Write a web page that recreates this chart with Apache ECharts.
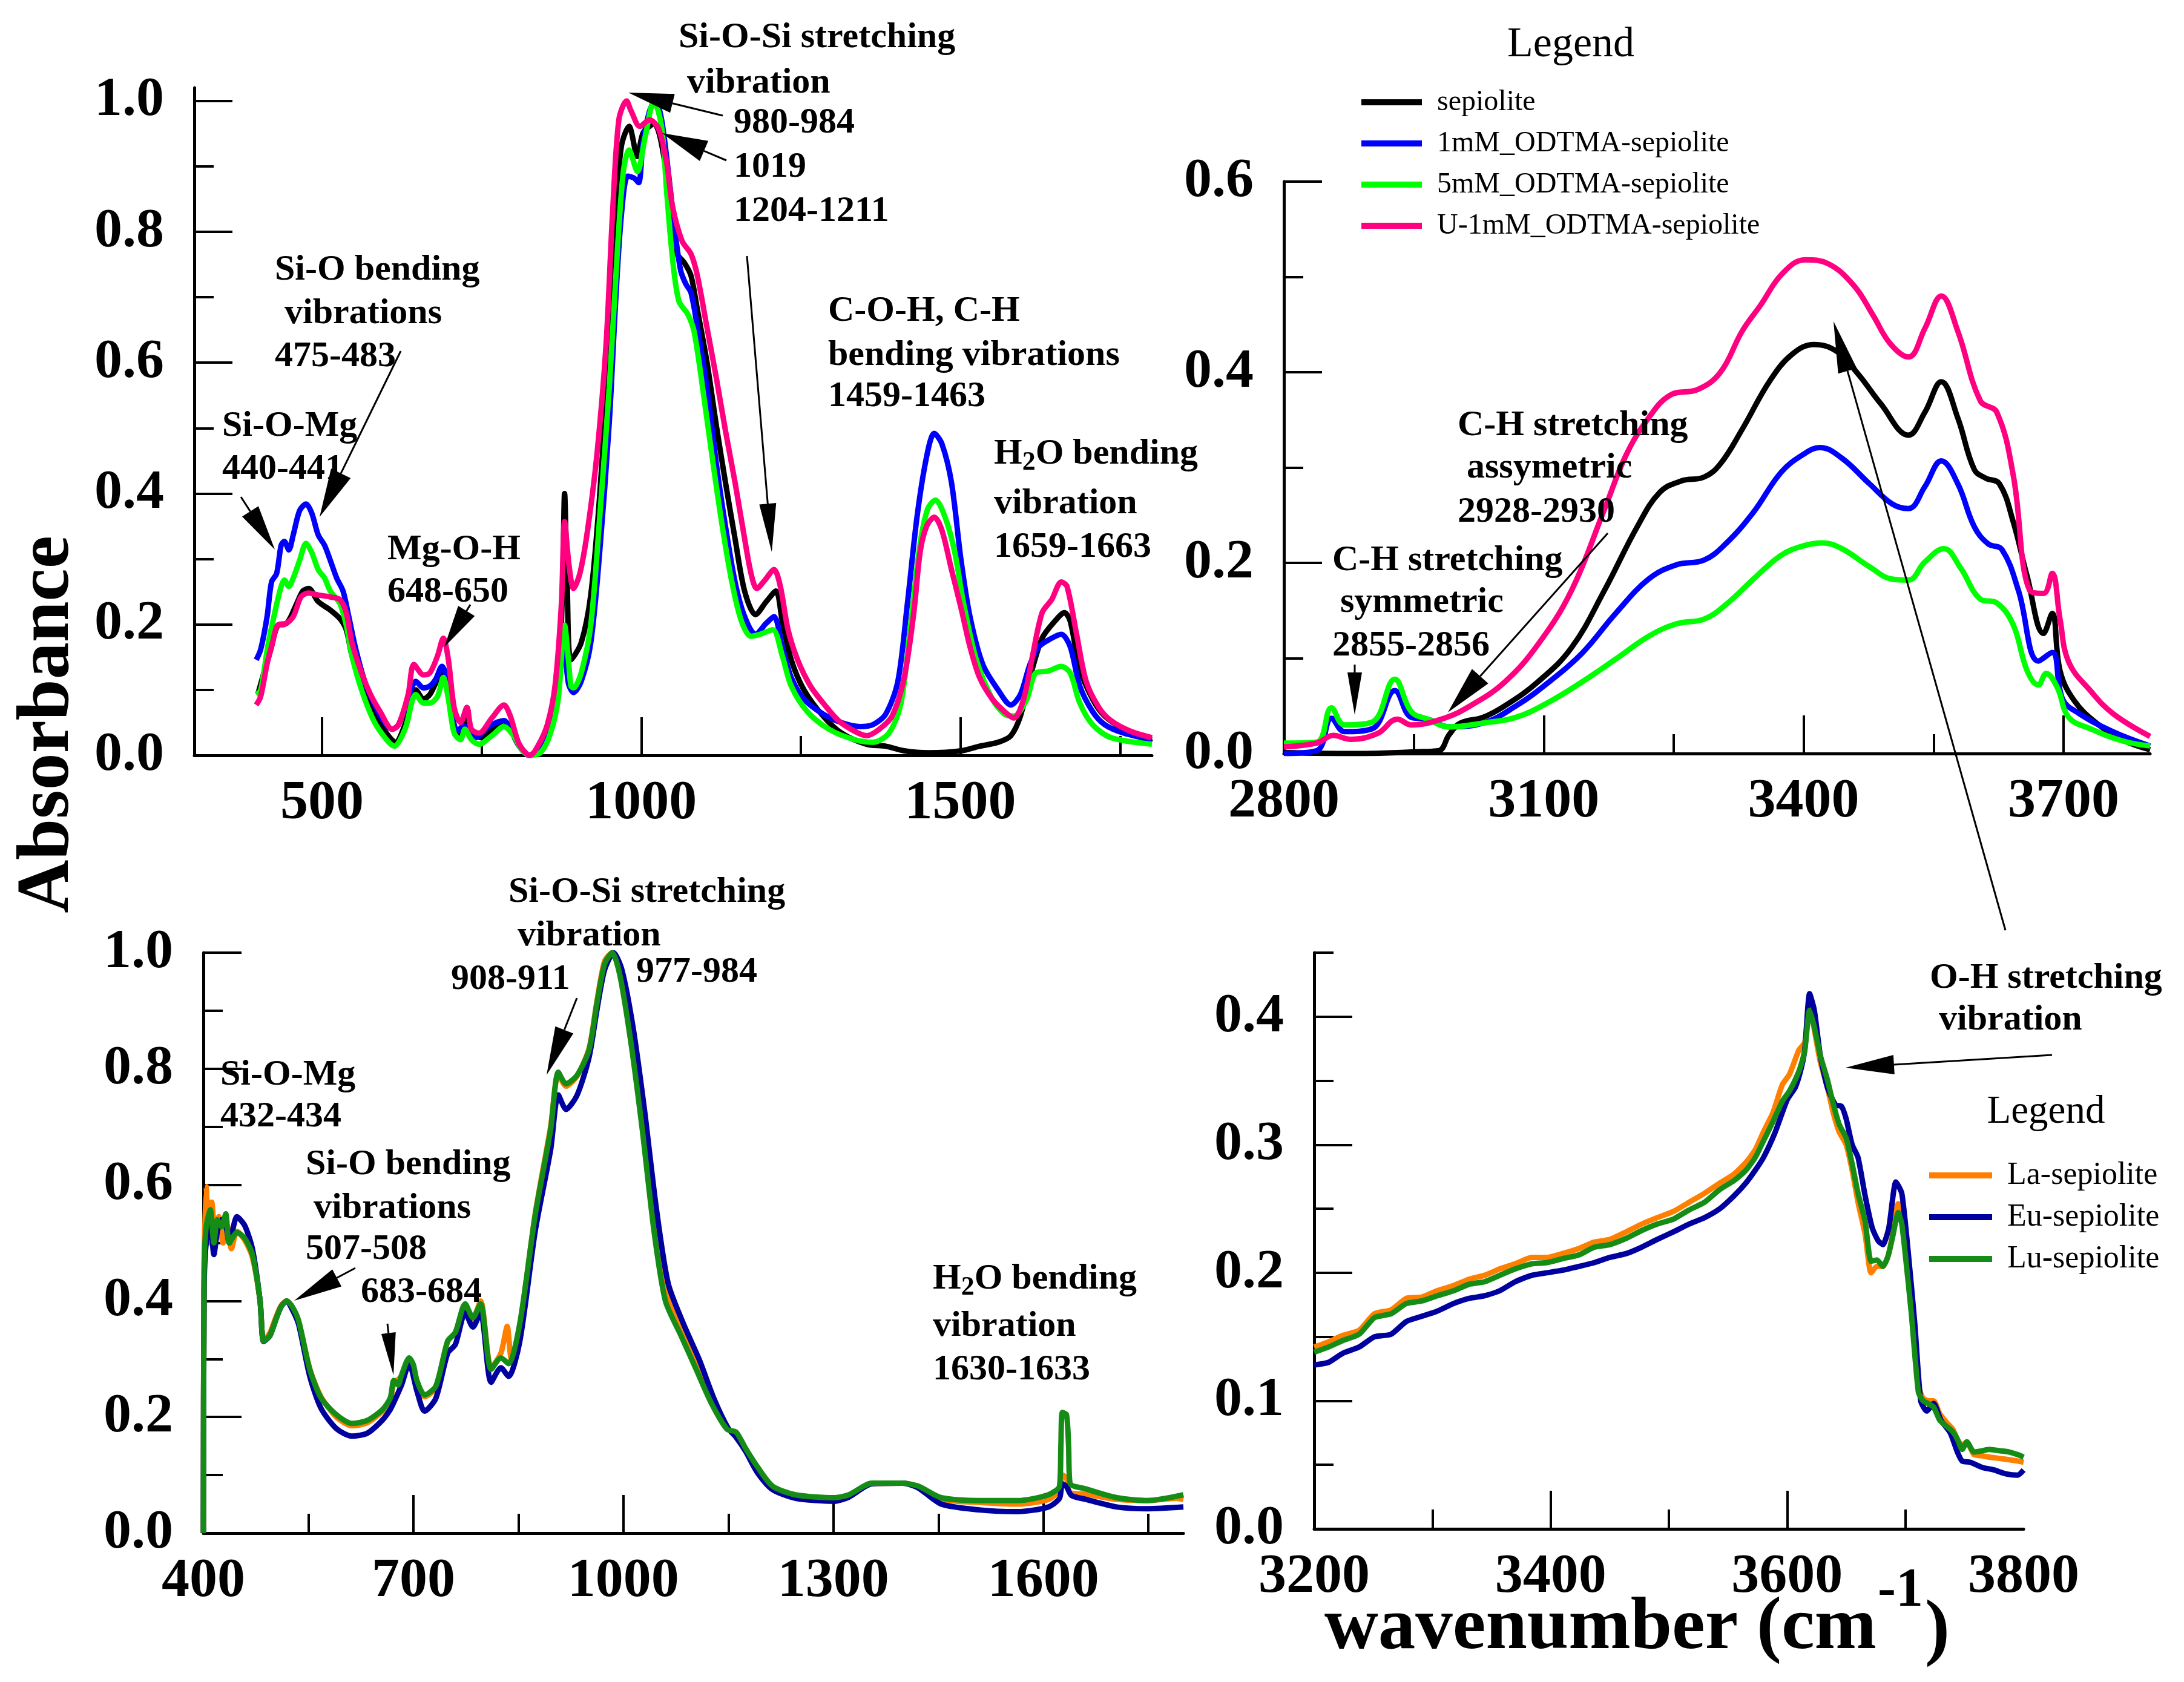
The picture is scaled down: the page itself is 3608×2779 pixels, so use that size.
<!DOCTYPE html>
<html>
<head>
<meta charset="utf-8">
<script src="https://cdn.jsdelivr.net/npm/echarts@6/dist/echarts.min.js"></script>
<style>
html,body{margin:0;padding:0;background:#fff;}
#chart{width:3608px;height:2779px;}
</style>
</head>
<body>
<div id="chart"></div>
<script>
// series names
const topNames = ['sepiolite', '1mM_ODTMA-sepiolite', '5mM_ODTMA-sepiolite', 'U-1mM_ODTMA-sepiolite'];
const bottomNames = ['La-sepiolite', 'Eu-sepiolite', 'Lu-sepiolite'];

// top left panel, 300-1800 cm-1 : [wavenumber, absorbance]
const tlSepiolite = [[400,0.095],[409,0.126],[419,0.159],[431,0.199],[445,0.202],[460,0.231],[470,0.251],[479,0.255],[494,0.235],[513,0.222],[528,0.209],[538,0.192],[547,0.152],[562,0.106],[581,0.067],[601,0.034],[615,0.02],[630,0.047],[647,0.1],[659,0.086],[669,0.093],[688,0.126],[695,0.106],[707,0.04],[717,0.027],[727,0.073],[734,0.034],[751,0.027],[770,0.044],[785,0.053],[795,0.04],[809,0.014],[826,0.0],[843,0.01],[858,0.04],[870,0.1],[877,0.265],[880,0.4],[884,0.265],[890,0.146],[906,0.172],[921,0.245],[935,0.397],[950,0.628],[960,0.826],[969,0.931],[981,0.961],[994,0.915],[1003,0.951],[1020,0.965],[1038,0.9],[1054,0.77],[1068,0.752],[1078,0.733],[1088,0.681],[1103,0.601],[1118,0.502],[1132,0.417],[1147,0.331],[1162,0.251],[1179,0.215],[1196,0.235],[1211,0.251],[1221,0.205],[1235,0.146],[1255,0.1],[1285,0.06],[1314,0.034],[1353,0.017],[1383,0.014],[1412,0.007],[1451,0.004],[1501,0.007],[1530,0.014],[1559,0.02],[1579,0.03],[1594,0.06],[1609,0.119],[1628,0.179],[1648,0.205],[1663,0.218],[1672,0.205],[1687,0.133],[1707,0.086],[1726,0.06],[1756,0.04],[1800,0.02]];
const tl1mM = [[397,0.146],[404,0.162],[414,0.212],[421,0.265],[429,0.278],[436,0.321],[441,0.327],[448,0.314],[455,0.337],[465,0.374],[475,0.384],[484,0.37],[494,0.337],[504,0.321],[513,0.298],[523,0.271],[533,0.251],[542,0.212],[552,0.166],[567,0.113],[581,0.08],[596,0.053],[610,0.04],[620,0.047],[635,0.086],[647,0.113],[659,0.103],[669,0.106],[678,0.116],[688,0.136],[695,0.119],[703,0.067],[712,0.037],[722,0.045],[730,0.04],[741,0.027],[761,0.044],[785,0.053],[795,0.04],[809,0.014],[824,0.0],[838,0.01],[853,0.04],[867,0.08],[878,0.18],[886,0.11],[894,0.096],[906,0.113],[921,0.172],[935,0.311],[950,0.509],[960,0.694],[969,0.826],[979,0.885],[989,0.882],[996,0.875],[1003,0.938],[1013,0.984],[1022,1.0],[1032,0.971],[1045,0.87],[1053,0.8],[1062,0.74],[1070,0.72],[1078,0.707],[1088,0.654],[1103,0.562],[1118,0.443],[1132,0.35],[1147,0.265],[1162,0.212],[1179,0.185],[1196,0.202],[1208,0.212],[1221,0.166],[1235,0.119],[1255,0.086],[1285,0.063],[1314,0.05],[1343,0.044],[1363,0.047],[1383,0.063],[1402,0.113],[1417,0.232],[1432,0.364],[1447,0.456],[1459,0.492],[1471,0.476],[1486,0.417],[1501,0.298],[1515,0.212],[1535,0.139],[1559,0.1],[1579,0.077],[1594,0.093],[1609,0.139],[1623,0.166],[1643,0.179],[1658,0.185],[1672,0.166],[1687,0.106],[1707,0.067],[1726,0.047],[1756,0.034],[1800,0.024]];
const tl5mM = [[397,0.093],[404,0.1],[415,0.166],[426,0.218],[436,0.258],[441,0.268],[448,0.258],[455,0.271],[465,0.298],[475,0.324],[484,0.31],[494,0.284],[504,0.271],[513,0.251],[528,0.232],[538,0.199],[547,0.152],[562,0.1],[581,0.053],[601,0.024],[613,0.014],[630,0.04],[647,0.093],[659,0.08],[669,0.08],[681,0.09],[690,0.119],[698,0.086],[707,0.034],[717,0.024],[724,0.04],[734,0.024],[746,0.017],[766,0.03],[785,0.044],[800,0.03],[814,0.007],[826,0.0],[843,0.005],[858,0.034],[870,0.086],[880,0.199],[886,0.146],[890,0.106],[894,0.103],[906,0.126],[921,0.199],[935,0.364],[950,0.562],[962,0.76],[972,0.892],[981,0.925],[994,0.892],[1006,0.944],[1020,1.0],[1032,0.96],[1040,0.86],[1049,0.76],[1059,0.694],[1073,0.674],[1083,0.647],[1098,0.549],[1113,0.443],[1127,0.35],[1142,0.265],[1157,0.205],[1172,0.182],[1186,0.185],[1206,0.192],[1221,0.152],[1235,0.106],[1260,0.067],[1294,0.04],[1334,0.024],[1363,0.02],[1388,0.034],[1407,0.08],[1422,0.199],[1437,0.324],[1449,0.377],[1461,0.39],[1476,0.364],[1491,0.311],[1505,0.232],[1525,0.146],[1550,0.086],[1569,0.063],[1584,0.06],[1604,0.086],[1618,0.126],[1638,0.129],[1658,0.136],[1672,0.126],[1687,0.08],[1707,0.047],[1736,0.027],[1800,0.017]];
const tlU1mM = [[397,0.077],[404,0.09],[414,0.14],[422,0.17],[431,0.199],[441,0.2],[455,0.212],[467,0.242],[479,0.248],[494,0.245],[513,0.242],[528,0.238],[538,0.218],[547,0.172],[562,0.126],[576,0.093],[591,0.067],[610,0.04],[620,0.047],[635,0.093],[644,0.139],[659,0.123],[669,0.126],[681,0.152],[690,0.179],[698,0.146],[707,0.073],[717,0.05],[727,0.073],[734,0.04],[746,0.034],[766,0.057],[785,0.077],[795,0.06],[809,0.017],[826,0.0],[838,0.014],[853,0.047],[865,0.106],[875,0.231],[880,0.357],[887,0.29],[894,0.255],[904,0.278],[916,0.344],[931,0.463],[945,0.628],[955,0.826],[965,0.971],[977,1.0],[984,0.985],[998,0.961],[1013,0.971],[1027,0.958],[1040,0.905],[1049,0.839],[1064,0.786],[1078,0.766],[1088,0.733],[1103,0.654],[1118,0.575],[1132,0.496],[1147,0.417],[1162,0.331],[1172,0.278],[1181,0.255],[1194,0.268],[1208,0.284],[1218,0.258],[1230,0.192],[1245,0.146],[1265,0.106],[1285,0.08],[1309,0.053],[1334,0.037],[1353,0.03],[1373,0.04],[1393,0.06],[1412,0.119],[1427,0.218],[1437,0.311],[1447,0.35],[1459,0.364],[1471,0.344],[1486,0.284],[1501,0.225],[1515,0.166],[1530,0.119],[1550,0.086],[1569,0.067],[1584,0.057],[1599,0.086],[1613,0.152],[1628,0.218],[1643,0.238],[1658,0.265],[1667,0.258],[1682,0.185],[1697,0.113],[1717,0.073],[1736,0.053],[1766,0.037],[1800,0.027]];

// top right panel, 2800-3800 cm-1
const trSepiolite = [[2800,0.001],[2880,0.0],[2960,0.002],[2979,0.003],[2991,0.02],[3004,0.032],[3030,0.038],[3055,0.05],[3093,0.075],[3132,0.111],[3170,0.171],[3208,0.238],[3234,0.274],[3259,0.286],[3285,0.29],[3304,0.304],[3329,0.34],[3361,0.391],[3387,0.419],[3412,0.429],[3438,0.422],[3463,0.398],[3489,0.367],[3521,0.334],[3540,0.358],[3559,0.39],[3578,0.352],[3597,0.298],[3610,0.289],[3626,0.283],[3642,0.243],[3658,0.186],[3677,0.126],[3687,0.147],[3696,0.087],[3712,0.056],[3738,0.032],[3769,0.014],[3800,0.004]];
const tr1mM = [[2800,0.0],[2838,0.003],[2855,0.037],[2870,0.023],[2902,0.026],[2928,0.066],[2947,0.038],[2966,0.036],[2991,0.028],[3030,0.032],[3068,0.05],[3106,0.075],[3144,0.105],[3183,0.147],[3221,0.183],[3253,0.198],[3285,0.203],[3310,0.22],[3342,0.253],[3374,0.295],[3400,0.314],[3419,0.321],[3444,0.31],[3476,0.283],[3502,0.262],[3521,0.257],[3540,0.28],[3559,0.307],[3578,0.283],[3597,0.238],[3613,0.22],[3629,0.214],[3648,0.171],[3671,0.097],[3687,0.106],[3699,0.057],[3718,0.042],[3757,0.023],[3800,0.008]];
const tr5mM = [[2800,0.011],[2838,0.012],[2855,0.048],[2870,0.03],[2902,0.033],[2928,0.078],[2947,0.044],[2966,0.036],[2991,0.028],[3030,0.032],[3068,0.038],[3106,0.054],[3144,0.075],[3183,0.099],[3221,0.123],[3253,0.136],[3285,0.141],[3310,0.156],[3342,0.183],[3374,0.208],[3400,0.218],[3422,0.221],[3444,0.215],[3476,0.196],[3502,0.183],[3521,0.182],[3540,0.201],[3562,0.215],[3581,0.195],[3604,0.162],[3623,0.158],[3642,0.135],[3658,0.087],[3671,0.072],[3680,0.084],[3693,0.069],[3706,0.038],[3731,0.026],[3769,0.013],[3800,0.008]];
const trU1mM = [[2800,0.007],[2838,0.011],[2857,0.019],[2877,0.015],[2908,0.021],[2931,0.036],[2947,0.03],[2985,0.037],[3017,0.051],[3055,0.075],[3093,0.114],[3132,0.171],[3170,0.256],[3195,0.313],[3221,0.352],[3246,0.376],[3278,0.382],[3304,0.4],[3329,0.443],[3350,0.47],[3376,0.504],[3402,0.518],[3428,0.514],[3458,0.491],[3480,0.46],[3500,0.43],[3521,0.416],[3540,0.446],[3559,0.48],[3578,0.443],[3604,0.37],[3623,0.358],[3642,0.292],[3661,0.171],[3677,0.168],[3687,0.189],[3696,0.141],[3706,0.096],[3731,0.066],[3757,0.042],[3800,0.018]];

// bottom left panel, 400-1800 cm-1
const blLa = [[400,0],[401,0.45],[404,0.597],[408,0.5],[412,0.57],[417,0.51],[422,0.545],[428,0.5],[434,0.53],[440,0.49],[448,0.52],[459,0.505],[470,0.475],[481,0.4],[486,0.331],[495,0.345],[503,0.37],[511,0.392],[519,0.4],[527,0.39],[536,0.365],[552,0.283],[568,0.235],[590,0.2],[612,0.185],[634,0.19],[656,0.21],[667,0.228],[672,0.258],[683,0.27],[694,0.3],[705,0.26],[716,0.235],[732,0.25],[749,0.33],[760,0.345],[774,0.39],[785,0.37],[796,0.4],[811,0.285],[825,0.31],[834,0.356],[840,0.3],[852,0.355],[874,0.55],[896,0.7],[907,0.79],[918,0.77],[934,0.788],[951,0.835],[962,0.915],[973,0.985],[984,1.0],[995,0.965],[1011,0.85],[1027,0.71],[1044,0.54],[1060,0.42],[1082,0.35],[1104,0.29],[1126,0.228],[1148,0.18],[1161,0.172],[1175,0.145],[1191,0.113],[1213,0.08],[1246,0.064],[1301,0.059],[1322,0.065],[1355,0.085],[1399,0.086],[1421,0.08],[1454,0.058],[1508,0.053],[1563,0.05],[1607,0.058],[1623,0.075],[1627,0.1],[1633,0.095],[1638,0.07],[1661,0.067],[1705,0.058],[1749,0.056],[1790,0.06],[1800,0.058]];
const blEu = [[400,0],[401,0.42],[404,0.5],[410,0.53],[415,0.48],[420,0.52],[426,0.54],[432,0.53],[437,0.5],[448,0.545],[459,0.53],[470,0.49],[481,0.4],[486,0.33],[495,0.34],[503,0.366],[511,0.39],[519,0.4],[527,0.385],[536,0.36],[552,0.27],[568,0.215],[590,0.18],[612,0.167],[634,0.172],[656,0.195],[667,0.213],[672,0.225],[683,0.255],[694,0.292],[705,0.245],[716,0.21],[732,0.232],[749,0.31],[760,0.325],[774,0.38],[785,0.355],[796,0.38],[811,0.26],[825,0.285],[836,0.27],[852,0.33],[874,0.52],[896,0.66],[907,0.755],[918,0.73],[934,0.755],[951,0.82],[962,0.9],[973,0.97],[986,1.0],[998,0.97],[1014,0.87],[1030,0.73],[1047,0.56],[1064,0.43],[1086,0.36],[1108,0.3],[1130,0.23],[1150,0.18],[1161,0.165],[1175,0.14],[1191,0.105],[1213,0.075],[1246,0.06],[1301,0.055],[1322,0.062],[1355,0.085],[1399,0.086],[1421,0.078],[1454,0.05],[1508,0.04],[1563,0.037],[1607,0.045],[1623,0.06],[1627,0.085],[1633,0.08],[1640,0.065],[1661,0.058],[1705,0.045],[1749,0.042],[1800,0.045]];
const blLu = [[400,0],[401,0.45],[404,0.528],[410,0.557],[415,0.5],[420,0.54],[426,0.528],[432,0.55],[437,0.5],[448,0.518],[459,0.508],[470,0.48],[481,0.4],[486,0.331],[495,0.34],[503,0.366],[511,0.39],[519,0.4],[527,0.39],[536,0.366],[552,0.282],[568,0.233],[590,0.204],[612,0.189],[634,0.194],[656,0.213],[667,0.233],[672,0.263],[678,0.255],[683,0.272],[694,0.302],[700,0.29],[705,0.263],[716,0.238],[732,0.253],[749,0.331],[760,0.346],[774,0.395],[785,0.371],[796,0.395],[811,0.282],[825,0.302],[836,0.292],[852,0.361],[874,0.548],[896,0.695],[907,0.794],[918,0.774],[934,0.789],[951,0.833],[962,0.912],[973,0.98],[984,1.0],[995,0.961],[1011,0.843],[1027,0.695],[1044,0.518],[1060,0.4],[1082,0.341],[1104,0.282],[1126,0.223],[1148,0.179],[1161,0.174],[1175,0.145],[1191,0.115],[1213,0.081],[1246,0.066],[1301,0.061],[1322,0.066],[1355,0.086],[1399,0.086],[1421,0.081],[1454,0.061],[1508,0.056],[1563,0.056],[1607,0.066],[1623,0.081],[1625,0.15],[1627,0.208],[1633,0.204],[1636,0.15],[1638,0.086],[1661,0.076],[1705,0.061],[1749,0.056],[1800,0.066]];

// bottom right panel, 3200-3800 cm-1
const brLa = [[3200,0.142],[3212,0.146],[3224,0.151],[3238,0.155],[3251,0.168],[3265,0.171],[3278,0.18],[3291,0.181],[3304,0.186],[3318,0.19],[3331,0.195],[3344,0.198],[3357,0.203],[3370,0.207],[3384,0.212],[3397,0.212],[3410,0.215],[3424,0.219],[3437,0.224],[3450,0.226],[3464,0.232],[3477,0.238],[3490,0.243],[3504,0.248],[3517,0.255],[3530,0.262],[3543,0.27],[3555,0.277],[3565,0.286],[3573,0.296],[3580,0.31],[3588,0.325],[3596,0.347],[3602,0.355],[3610,0.374],[3615,0.38],[3619,0.41],[3623,0.39],[3628,0.365],[3634,0.345],[3639,0.325],[3644,0.31],[3650,0.3],[3655,0.28],[3660,0.255],[3666,0.23],[3671,0.2],[3676,0.205],[3681,0.205],[3686,0.215],[3690,0.235],[3694,0.254],[3697,0.245],[3700,0.22],[3705,0.175],[3711,0.112],[3715,0.102],[3720,0.1],[3724,0.1],[3729,0.09],[3735,0.083],[3740,0.078],[3744,0.07],[3748,0.065],[3752,0.068],[3758,0.058],[3765,0.057],[3771,0.056],[3780,0.055],[3788,0.054],[3795,0.053],[3800,0.052]];
const brEu = [[3200,0.128],[3212,0.13],[3224,0.137],[3238,0.142],[3251,0.15],[3265,0.152],[3278,0.162],[3291,0.166],[3304,0.17],[3318,0.176],[3331,0.18],[3344,0.182],[3357,0.186],[3370,0.193],[3384,0.198],[3397,0.2],[3410,0.202],[3424,0.205],[3437,0.208],[3450,0.212],[3464,0.215],[3477,0.22],[3490,0.226],[3504,0.232],[3517,0.238],[3530,0.243],[3543,0.25],[3555,0.26],[3565,0.27],[3573,0.28],[3580,0.29],[3590,0.31],[3600,0.335],[3607,0.345],[3612,0.36],[3615,0.375],[3619,0.418],[3623,0.405],[3628,0.37],[3634,0.345],[3641,0.331],[3646,0.33],[3650,0.32],[3655,0.3],[3660,0.29],[3666,0.26],[3672,0.235],[3677,0.225],[3681,0.222],[3686,0.235],[3692,0.271],[3697,0.262],[3702,0.22],[3708,0.16],[3713,0.1],[3718,0.092],[3724,0.098],[3730,0.085],[3738,0.075],[3744,0.06],[3748,0.053],[3755,0.052],[3765,0.048],[3775,0.046],[3785,0.043],[3795,0.042],[3800,0.046]];
const brLu = [[3200,0.138],[3212,0.142],[3224,0.147],[3238,0.152],[3251,0.165],[3265,0.168],[3278,0.176],[3291,0.178],[3304,0.182],[3318,0.186],[3331,0.191],[3344,0.193],[3357,0.198],[3370,0.203],[3384,0.207],[3397,0.208],[3410,0.211],[3424,0.214],[3437,0.22],[3450,0.222],[3464,0.227],[3477,0.233],[3490,0.238],[3504,0.242],[3517,0.249],[3530,0.255],[3543,0.265],[3555,0.272],[3565,0.28],[3573,0.29],[3580,0.303],[3588,0.318],[3596,0.334],[3602,0.342],[3607,0.351],[3611,0.36],[3615,0.374],[3619,0.405],[3623,0.392],[3628,0.37],[3634,0.351],[3639,0.332],[3644,0.316],[3650,0.305],[3655,0.285],[3660,0.262],[3666,0.24],[3671,0.209],[3676,0.21],[3681,0.205],[3685,0.212],[3689,0.227],[3694,0.247],[3697,0.238],[3700,0.214],[3705,0.169],[3711,0.107],[3715,0.1],[3719,0.098],[3724,0.095],[3729,0.085],[3735,0.08],[3740,0.076],[3744,0.07],[3748,0.062],[3752,0.068],[3758,0.06],[3765,0.061],[3771,0.062],[3780,0.061],[3788,0.06],[3795,0.058],[3800,0.056]];

// axis ticks and labels
const tlXLabels = [500, 1000, 1500], tlXMajor = [500, 1000, 1500], tlXMinor = [750, 1250, 1750];
const trXLabels = [2800, 3100, 3400, 3700], trXMajor = [3100, 3400, 3700], trXMinor = [2950, 3250, 3550];
const blXLabels = [400, 700, 1000, 1300, 1600], blXMajor = [700, 1000, 1300, 1600], blXMinor = [550, 850, 1150, 1450, 1750];
const brXLabels = [3200, 3400, 3600, 3800], brXMajor = [3400, 3600], brXMinor = [3300, 3500, 3700];
const yUnitLabels = [0, 0.2, 0.4, 0.6, 0.8, 1.0], yUnitMinor = [0.1, 0.3, 0.5, 0.7, 0.9];
const trYLabels = [0, 0.2, 0.4, 0.6], trYMinor = [0.1, 0.3, 0.5];
const brYLabels = [0, 0.1, 0.2, 0.3, 0.4], brYMinor = [0.05, 0.15, 0.25, 0.35, 0.45];

const topColors = ['#000000', '#0000ff', '#00ff00', '#ff0080'];
const bottomColors = ['#ff8000', '#00009e', '#158c15'];

const FONT = 'Liberation Serif';

// panel rectangles
const rects = [
  {left: 321, top: 145, width: 1582, height: 1103},
  {left: 2121, top: 300, width: 1431, height: 945},
  {left: 336, top: 1574, width: 1619, height: 959},
  {left: 2171, top: 1574, width: 1172, height: 952}
];
// second copy of each grid only carries the short ticks
const grids = rects.concat(rects);

function axisPair(dim, idx, min, max, labels, major, minor, fmt) {
  const base = {type: 'value', min: min, max: max, splitLine: {show: false}};
  const main = Object.assign({}, base, {
    gridIndex: idx,
    position: dim === 'x' ? 'bottom' : 'left',
    axisLine: {show: true, onZero: false, lineStyle: {color: '#000', width: 5}},
    axisTick: {show: true, inside: true, length: 63, customValues: major, lineStyle: {color: '#000', width: 4}},
    axisLabel: {show: true, customValues: labels, formatter: fmt, fontSize: 92, fontWeight: 'bold',
                fontFamily: FONT, color: '#000', margin: dim === 'x' ? 34 : 50}
  });
  const small = Object.assign({}, base, {
    gridIndex: idx + 4,
    position: dim === 'x' ? 'bottom' : 'left',
    axisLine: {show: false},
    axisTick: {show: true, inside: true, length: 32, customValues: minor, lineStyle: {color: '#000', width: 4}},
    axisLabel: {show: false}
  });
  return [main, small];
}

const fx = v => String(v);
const fy = v => v.toFixed(1);

const xs = [
  axisPair('x', 0, 300, 1800, tlXLabels, tlXMajor, tlXMinor, fx),
  axisPair('x', 1, 2800, 3800, trXLabels, trXMajor, trXMinor, fx),
  axisPair('x', 2, 400, 1800, blXLabels, blXMajor, blXMinor, fx),
  axisPair('x', 3, 3200, 3800, brXLabels, brXMajor, brXMinor, fx)
];
const ys = [
  axisPair('y', 0, 0, 1.02, yUnitLabels, yUnitLabels, yUnitMinor, fy),
  axisPair('y', 1, 0, 0.6, trYLabels, trYLabels, trYMinor, fy),
  axisPair('y', 2, 0, 1.0, yUnitLabels, yUnitLabels, yUnitMinor, fy),
  axisPair('y', 3, 0, 0.45, brYLabels, brYLabels, brYMinor, fy)
];
const xAxis = xs.map(p => p[0]).concat(xs.map(p => p[1]));
const yAxis = ys.map(p => p[0]).concat(ys.map(p => p[1]));

function line(name, data, color, panel, smooth) {
  return {
    name: name, type: 'line', data: data,
    xAxisIndex: panel, yAxisIndex: panel,
    showSymbol: false, symbol: 'none',
    smooth: smooth,
    lineStyle: {color: color, width: 9},
    itemStyle: {color: color},
    silent: true
  };
}

const series = [
  line(topNames[0], tlSepiolite, topColors[0], 0, 0.3),
  line(topNames[1], tl1mM, topColors[1], 0, 0.3),
  line(topNames[2], tl5mM, topColors[2], 0, 0.3),
  line(topNames[3], tlU1mM, topColors[3], 0, 0.3),
  line(topNames[0], trSepiolite, topColors[0], 1, 0.4),
  line(topNames[1], tr1mM, topColors[1], 1, 0.4),
  line(topNames[2], tr5mM, topColors[2], 1, 0.4),
  line(topNames[3], trU1mM, topColors[3], 1, 0.4),
  line(bottomNames[0], blLa, bottomColors[0], 2, 0.25),
  line(bottomNames[1], blEu, bottomColors[1], 2, 0.25),
  line(bottomNames[2], blLu, bottomColors[2], 2, 0.25),
  line(bottomNames[0], brLa, bottomColors[0], 3, 0.2),
  line(bottomNames[1], brEu, bottomColors[1], 3, 0.2),
  line(bottomNames[2], brLu, bottomColors[2], 3, 0.2)
];

// annotations
function txt(x, y, text, size, weight) {
  return {type: 'text', x: x, y: y, z: 100,
    style: {text: text, fontSize: size || 60, fontWeight: weight || 'bold', fontFamily: FONT,
            fill: '#000', align: 'left', verticalAlign: 'middle'}};
}
function h2o(x, y) {
  return {type: 'text', x: x, y: y, z: 100,
    style: {text: '{a|H}{b|2}{a|O bending}', align: 'left', verticalAlign: 'middle', fill: '#000',
      rich: {
        a: {fontSize: 60, fontWeight: 'bold', fontFamily: FONT, lineHeight: 60},
        b: {fontSize: 44, fontWeight: 'bold', fontFamily: FONT, lineHeight: 44, padding: [30, 0, 0, 0]}
      }}};
}
function arrow(x1, y1, x2, y2, len, half) {
  len = len || 80; half = half || 18;
  const dx = x2 - x1, dy = y2 - y1, d = Math.hypot(dx, dy), ux = dx / d, uy = dy / d;
  const bx = x2 - ux * len, by = y2 - uy * len;
  return [
    {type: 'line', z: 100, shape: {x1: x1, y1: y1, x2: bx, y2: by}, style: {stroke: '#000', lineWidth: 3}},
    {type: 'polygon', z: 100, shape: {points: [[x2, y2], [bx - uy * half, by + ux * half], [bx + uy * half, by - ux * half]]},
     style: {fill: '#000'}}
  ];
}

let graphic = [
  // top left
  txt(1121, 62, 'Si-O-Si stretching'), txt(1135, 137, 'vibration'),
  txt(1212, 203, '980-984'), txt(1212, 276, '1019'), txt(1212, 349, '1204-1211'),
  txt(454, 446, 'Si-O bending'), txt(470, 518, 'vibrations'), txt(454, 589, '475-483'),
  txt(367, 704, 'Si-O-Mg'), txt(367, 775, '440-441'),
  txt(640, 908, 'Mg-O-H'), txt(640, 978, '648-650'),
  txt(1368, 514, 'C-O-H, C-H'), txt(1368, 587, 'bending vibrations'), txt(1368, 655, '1459-1463'),
  h2o(1642, 750), txt(1642, 832, 'vibration'), txt(1642, 904, '1659-1663'),
  // top right
  txt(2408, 703, 'C-H stretching'), txt(2423, 773, 'assymetric'), txt(2408, 846, '2928-2930'),
  txt(2201, 926, 'C-H stretching'), txt(2214, 995, 'symmetric'), txt(2201, 1067, '2855-2856'),
  // bottom right
  txt(3188, 1616, 'O-H stretching'), txt(3203, 1685, 'vibration'),
  // bottom left
  txt(840, 1474, 'Si-O-Si stretching'), txt(855, 1546, 'vibration'),
  txt(745, 1618, '908-911'), txt(1051, 1606, '977-984'),
  txt(364, 1776, 'Si-O-Mg'), txt(364, 1845, '432-434'),
  txt(505, 1924, 'Si-O bending'), txt(518, 1996, 'vibrations'), txt(505, 2064, '507-508'), txt(596, 2135, '683-684'),
  h2o(1541, 2113), txt(1541, 2191, 'vibration'), txt(1541, 2263, '1630-1633'),
  // legend titles
  {type: 'text', x: 2595, y: 75, z: 100, style: {text: 'Legend', fontSize: 70, fontFamily: FONT, fill: '#000', align: 'center', verticalAlign: 'middle'}},
  {type: 'text', x: 3380, y: 1838, z: 100, style: {text: 'Legend', fontSize: 65, fontFamily: FONT, fill: '#000', align: 'center', verticalAlign: 'middle'}},
  // axis titles
  {type: 'text', x: 80, y: 1197, rotation: Math.PI / 2, z: 100,
   style: {text: 'Absorbance', fontSize: 122, fontWeight: 'bold', fontFamily: FONT, fill: '#000', align: 'center', verticalAlign: 'middle'}},
  txt(2188, 2691, 'wavenumber (cm', 123), txt(3102, 2630, '-1', 90), txt(3180, 2696, ')', 123)
];
graphic = graphic
  .concat(arrow(1194, 191, 1038, 153, 75, 16))
  .concat(arrow(1200, 265, 1094, 220, 75, 18))
  .concat(arrow(1234, 423, 1275, 912, 80, 14))
  .concat(arrow(662, 580, 528, 854, 80, 18))
  .concat(arrow(398, 821, 454, 908, 75, 16))
  .concat(arrow(777, 999, 734, 1069, 70, 16))
  .concat(arrow(2656, 881, 2392, 1177, 80, 18))
  .concat(arrow(2238, 1098, 2238, 1181, 70, 12))
  .concat(arrow(3313, 1537, 3029, 531, 85, 16))
  .concat(arrow(3390, 1743, 3049, 1764, 80, 16))
  .concat(arrow(953, 1649, 903, 1776, 80, 16))
  .concat(arrow(587, 2095, 486, 2149, 80, 16))
  .concat(arrow(640, 2187, 650, 2272, 70, 12));

const chart = echarts.init(document.getElementById('chart'));
chart.setOption({
  animation: false,
  backgroundColor: '#fff',
  textStyle: {fontFamily: FONT},
  grid: grids,
  xAxis: xAxis,
  yAxis: yAxis,
  legend: [
    {data: topNames, orient: 'vertical', left: 2244, top: 140, itemWidth: 100, itemHeight: 10, itemGap: 20,
     icon: 'rect', selectedMode: false,
     textStyle: {fontSize: 48, lineHeight: 48, fontFamily: FONT, color: '#000', padding: [0, 0, 0, 20]}},
    {data: bottomNames, orient: 'vertical', left: 3182, top: 1911, itemWidth: 104, itemHeight: 10, itemGap: 17,
     icon: 'rect', selectedMode: false,
     textStyle: {fontSize: 52, lineHeight: 52, fontFamily: FONT, color: '#000', padding: [0, 0, 0, 20]}}
  ],
  graphic: graphic,
  series: series
});
</script>
</body>
</html>
